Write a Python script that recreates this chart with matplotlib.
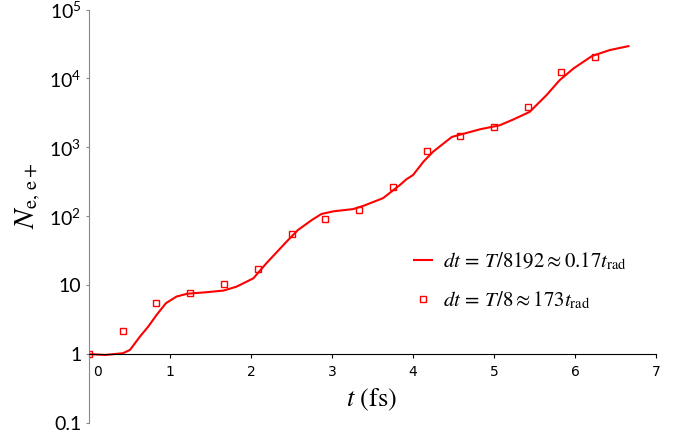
import matplotlib
matplotlib.use("Agg")
import matplotlib.pyplot as plt
import matplotlib.transforms as mtransforms
from matplotlib.ticker import NullLocator

plt.rcParams["mathtext.fontset"] = "stix"

# fine time step (line)
t_fine = [0, 0.2, 0.42, 0.506, 0.63, 0.732, 0.835, 0.95, 1.08, 1.21, 1.45, 1.66,
          1.82, 1.95, 2.03, 2.10, 2.19, 2.44, 2.58, 2.75, 2.87, 3.02, 3.26, 3.39,
          3.63, 3.84, 3.92, 4.00, 4.13, 4.25, 4.48, 4.83, 5.07, 5.24, 5.44, 5.65,
          5.81, 5.98, 6.21, 6.43, 6.66]
n_fine = [1, 0.97, 1.03, 1.15, 1.8, 2.51, 3.71, 5.48, 6.83, 7.5, 7.9, 8.35,
          9.5, 11.3, 12.6, 15.7, 20.8, 42.9, 63.2, 88, 108, 118, 127, 142,
          183, 285, 345, 396, 621, 868, 1416, 1830, 2088, 2540, 3270, 5750,
          9420, 13900, 21130, 25800, 29400]

# coarse time step (squares)
t_coarse = [0, 0.417, 0.833, 1.25, 1.667, 2.083, 2.5, 2.917, 3.333, 3.75,
            4.167, 4.583, 5.0, 5.417, 5.833, 6.25]
n_coarse = [1, 2.18, 5.48, 7.8, 10.4, 17.4, 56, 92, 125, 266,
            884, 1443, 1950, 3838, 12470, 20370]

y_ticks = [0.1, 1, 10, 100, 1000, 10000, 100000]
y_ticklabels = ["0.1", "1", "10", r"$\mathdefault{10^{2}}$", r"$\mathdefault{10^{3}}$",
                r"$\mathdefault{10^{4}}$", r"$\mathdefault{10^{5}}$"]
x_ticks = [0, 1, 2, 3, 4, 5, 6, 7]

fig = plt.figure(figsize=(6.74, 4.41), dpi=100)
ax = fig.add_axes([89 / 674, 1 - 423 / 441, 567 / 674, 413.5 / 441])

ax.plot(t_fine, n_fine, color="red", lw=1.5,
        label=r"$dt\,=\,T/8192\approx0.17t_{\mathrm{rad}}$")
ax.plot(t_coarse, n_coarse, ls="none", marker="s", ms=4.5, mfc="none", mec="red", mew=1,
        label=r"$dt\,=\,T/8\approx173t_{\mathrm{rad}}$")

ax.set_yscale("log")
ax.set_ylim(0.1, 1e5)
ax.set_xlim(0, 7)
ax.yaxis.set_minor_locator(NullLocator())
ax.set_yticks(y_ticks)
ax.set_yticklabels(y_ticklabels, fontfamily="Lato", fontsize=14)
ax.set_xticks(x_ticks)
ax.set_xticklabels([str(v) for v in x_ticks], fontfamily="Lato", fontsize=14)

ax.spines["top"].set_visible(False)
ax.spines["right"].set_visible(False)
ax.spines["left"].set_color("#888888")
ax.spines["bottom"].set_position(("data", 1))
ax.spines["bottom"].set_color("black")
ax.tick_params(axis="y", length=2.5, color="#888888", pad=3)
ax.tick_params(axis="x", length=3, color="black", pad=5)

# move the "0" label off the y axis, like the original
lab0 = ax.get_xticklabels()[0]
lab0.set_transform(lab0.get_transform() + mtransforms.ScaledTranslation(8 / 100, 0, fig.dpi_scale_trans))

ax.set_xlabel(r"$t$ (fs)", fontfamily="STIXGeneral", fontsize=19)
ax.xaxis.set_label_coords(0.499, 0.056)
ax.xaxis.label.set_verticalalignment("center")
ax.set_ylabel(r"$N_{\mathrm{e,\,e+}}$", fontsize=21)
ax.yaxis.set_label_coords(-0.108, 0.549)
ax.yaxis.label.set_verticalalignment("center")

ax.legend(loc="upper left", bbox_to_anchor=(0.558, 0.438), frameon=False, fontsize=15,
          handlelength=0.9, handletextpad=0.5, labelspacing=0.84, borderaxespad=0)

fig.savefig("out.png", dpi=100)
